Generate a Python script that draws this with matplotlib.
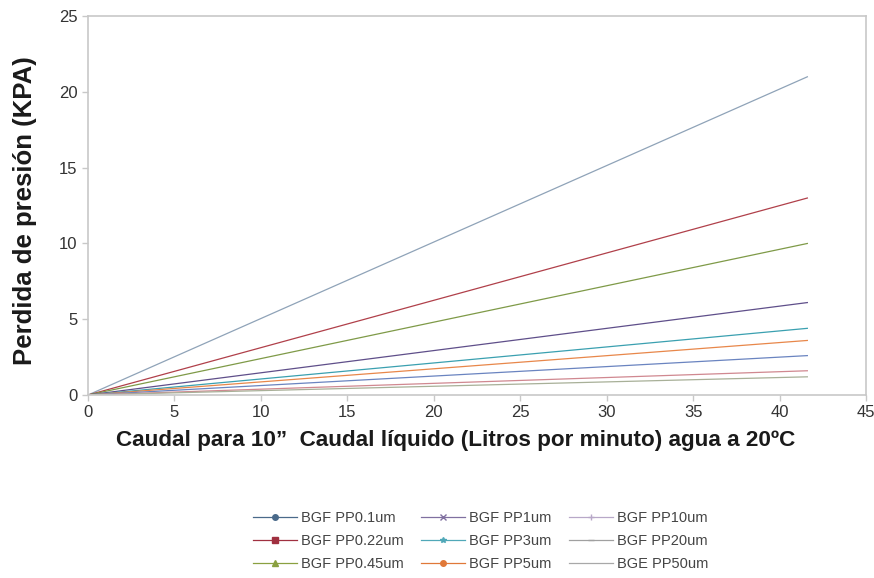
import numpy as np
import matplotlib
matplotlib.use("Agg")
import matplotlib.pyplot as plt
from matplotlib.lines import Line2D

# caudal (L/min) and pressure drop (KPA) for each cartridge
caudal = [0, 41.6]
labels = ["BGF PP0.1um", "BGF PP0.22um", "BGF PP0.45um",
          "BGF PP1um", "BGF PP3um", "BGF PP5um",
          "BGF PP10um", "BGF PP20um", "BGE PP50um"]
perdida = [
    [0, 21.0],
    [0, 13.0],
    [0, 10.0],
    [0, 6.1],
    [0, 4.4],
    [0, 3.6],
    [0, 2.6],
    [0, 1.6],
    [0, 1.2],
]
colors = ["#8fa3b8", "#b0404a", "#7f9a48", "#5f4f8a", "#3aa0b0",
          "#e8874a", "#6a84c0", "#d08890", "#a8b098"]
legend_colors = ["#4a6a8a", "#a03040", "#8aa040", "#8070a0", "#50a8b8",
                 "#e07838", "#b8a8c8", "#a0a0a0", "#a8a8a8"]
markers = ["o", "s", "^", "x", "*", "o", "+", "_", ""]

fam = ["Liberation Sans", "DejaVu Sans"]

fig = plt.figure(figsize=(8.74, 5.78), dpi=100)
ax = fig.add_axes([0.1007, 0.3166, 0.8903, 0.6554])

for y, c in zip(perdida, colors):
    ax.plot(caudal, y, color=c, lw=0.9)

ax.set_xlim(0, 45)
ax.set_ylim(0, 25)
ax.set_xticks(np.arange(0, 46, 5))
ax.set_yticks(np.arange(0, 26, 5))
for s in ax.spines.values():
    s.set_color("#c8c8c8")
    s.set_linewidth(1.2)
ax.tick_params(colors="#c8c8c8", labelcolor="#333333", length=4, width=1)
for t in ax.get_xticklabels() + ax.get_yticklabels():
    t.set_family(fam)
    t.set_fontsize(12)

ax.set_ylabel("Perdida de presión (KPA)", fontsize=18.5, fontweight="bold",
              color="#1a1a1a", family=fam)
ax.yaxis.set_label_coords(-0.066, 0.488)
ax.set_xlabel("Caudal para 10”  Caudal líquido (Litros por minuto) agua a 20ºC",
              fontsize=16.2, fontweight="bold", color="#1a1a1a", family=fam)
ax.xaxis.set_label_coords(0.473, -0.092)

handles = [Line2D([], [], color=c, marker=m, markersize=4, lw=0.9)
           for c, m in zip(legend_colors, markers)]
fig.legend(handles, labels, ncol=3, loc="center", bbox_to_anchor=(0.55, 0.064),
           frameon=False, prop={"family": fam, "size": 10.5},
           labelcolor="#444444", handlelength=3.0, columnspacing=1.2,
           labelspacing=0.6, handletextpad=0.3)

fig.savefig("out.png", dpi=100)
